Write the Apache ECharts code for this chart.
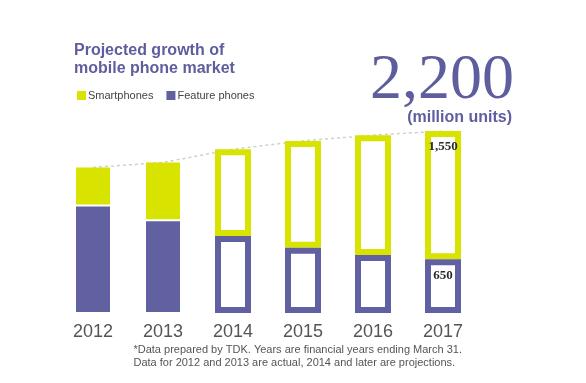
<!DOCTYPE html>
<html><head><meta charset="utf-8">
<script src="https://cdn.jsdelivr.net/npm/echarts@6/dist/echarts.min.js"></script>
<style>html,body{margin:0;padding:0;background:#fff}#c{width:586px;height:383px}</style>
</head><body><div id="c"></div>
<script>
const years = ['2012', '2013', '2014', '2015', '2016', '2017'];
const featurePhones = [1300, 1120, 930, 790, 700, 650];
const smartphones = [460, 700, 1050, 1290, 1450, 1550];
const projected = [false, false, true, true, true, true];
const labeledYears = ['2017'];
const totalLabel = '2,200';

const YELLOW = '#d8e300';
const PURPLE = '#6161a1';
const totals = featurePhones.map((f, i) => f + smartphones[i]);
const fmt = v => v.toLocaleString('en-US');

function makeRender(isSmart) {
  return function (params, api) {
    const i = api.value(0), f = api.value(1), s = api.value(2);
    const base = api.coord([i, 0]);
    const x = base[0], y0 = base[1];
    const yF = api.coord([i, f])[1];
    const yT = api.coord([i, f + s])[1];
    const color = isSmart ? YELLOW : PURPLE;
    const children = [];
    if (!projected[i]) {
      const top = isSmart ? yT : yF + 1;
      const bot = isSmart ? yF - 1 : y0 - 1;
      children.push({type: 'rect', shape: {x: x - 17, y: top, width: 34, height: bot - top}, style: {fill: color}});
    } else {
      const top = (isSmart ? yT : yF) + 3;
      const bot = (isSmart ? yF : y0) - 3;
      children.push({type: 'rect', shape: {x: x - 15, y: top, width: 30, height: bot - top}, style: {fill: '#fff', stroke: color, lineWidth: 6}});
    }
    if (labeledYears.indexOf(years[i]) >= 0) {
      const top = isSmart ? yT : yF;
      children.push({type: 'text', style: {text: fmt(isSmart ? s : f), x: x, y: top + 16, align: 'center', verticalAlign: 'middle', font: 'bold 13px "Liberation Serif", serif', fill: '#2b2b2b'}});
    }
    return {type: 'group', children: children};
  };
}

const data = years.map((y, i) => [i, featurePhones[i], smartphones[i]]);
const chart = echarts.init(document.getElementById('c'), null, {renderer: 'canvas'});
chart.setOption({
  animation: false,
  backgroundColor: '#fff',
  title: {
    text: 'Projected growth of\nmobile phone market',
    left: 69, top: 37,
    textStyle: {fontFamily: 'Liberation Sans, Arial, sans-serif', fontWeight: 'bold', fontSize: 16, lineHeight: 18, color: '#5e5e9e'}
  },
  legend: {
    left: 72, top: 85, icon: 'rect', itemWidth: 9, itemHeight: 9, itemGap: 13,
    data: ['Smartphones', 'Feature phones'],
    textStyle: {fontFamily: 'Liberation Sans, Arial, sans-serif', fontSize: 11, color: '#444', padding: [0, 0, 0, -3]}
  },
  grid: {left: 58, right: 108, top: 131, bottom: 70},
  xAxis: {
    type: 'category', data: years, boundaryGap: true,
    axisLine: {show: false}, axisTick: {show: false},
    axisLabel: {fontFamily: 'Liberation Sans, Arial, sans-serif', fontSize: 18, color: '#555', margin: 10}
  },
  yAxis: {type: 'value', min: 0, max: 2200, show: false, splitLine: {show: false}},
  graphic: [
    {type: 'text', right: 72, top: 49, style: {text: totalLabel, font: '64px "Liberation Serif", "DejaVu Serif", serif', fill: '#5e5e9e'}},
    {type: 'text', right: 74, top: 110, style: {text: '(million units)', font: 'bold 16px "Liberation Sans", Arial, sans-serif', fill: '#5e5e9e'}},
    {type: 'text', right: 124, top: 343, style: {text: '*Data prepared by TDK. Years are financial years ending March 31.\nData for 2012 and 2013 are actual, 2014 and later are projections.', font: '11px "Liberation Sans", Arial, sans-serif', fill: '#555', align: 'right', lineHeight: 13}}
  ],
  series: [
    {type: 'line', data: totals, symbol: 'none', z: 1, silent: true,
     lineStyle: {color: '#cfcfcf', width: 1.5, type: [3, 3]}},
    {name: 'Smartphones', type: 'custom', z: 3, itemStyle: {color: YELLOW}, renderItem: makeRender(true), data: data, encode: {x: 0, y: [1, 2]}},
    {name: 'Feature phones', type: 'custom', z: 3, itemStyle: {color: PURPLE}, renderItem: makeRender(false), data: data, encode: {x: 0, y: [1, 2]}}
  ]
});
</script></body></html>
